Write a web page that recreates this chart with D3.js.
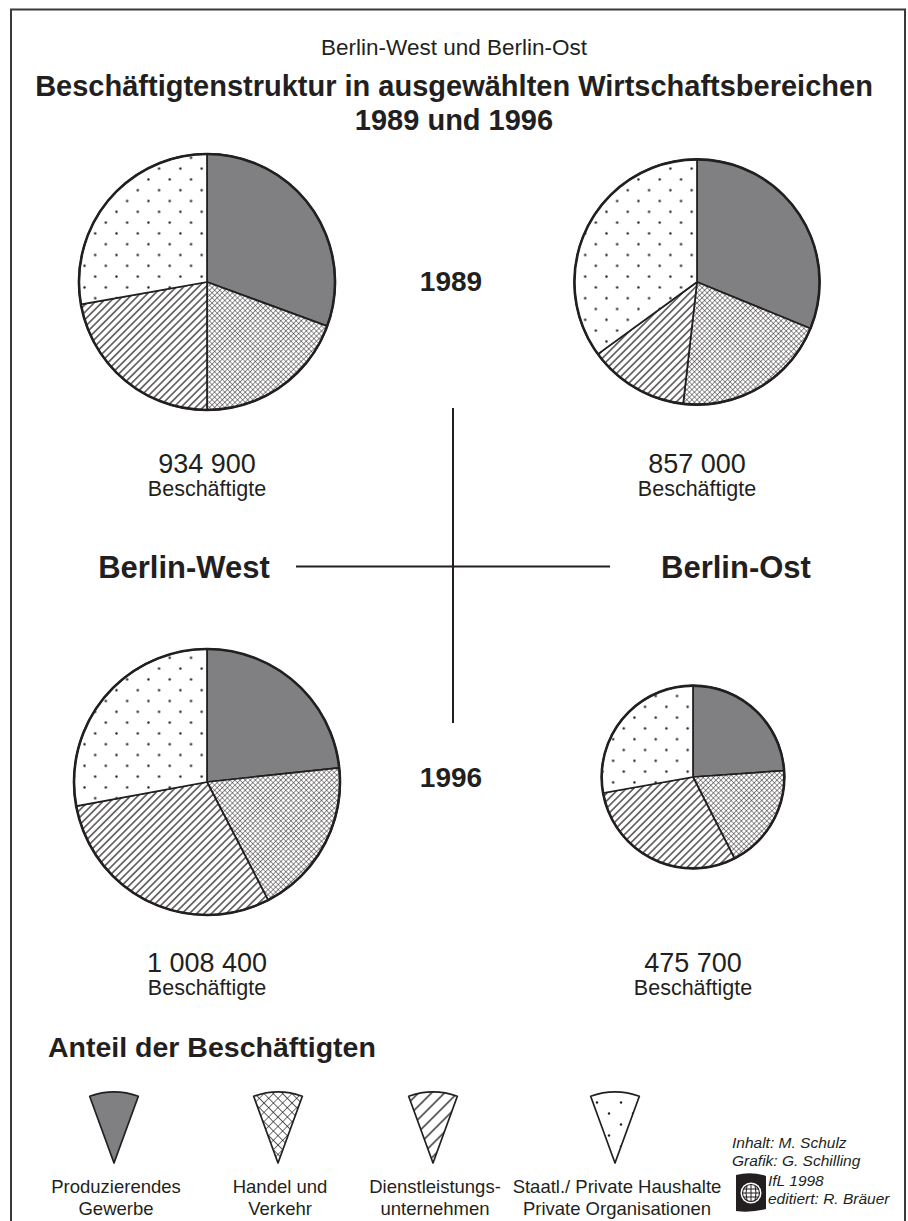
<!DOCTYPE html>
<html>
<head>
<meta charset="utf-8">
<script src="https://cdn.jsdelivr.net/npm/d3@7"></script>
<style>
  body { margin: 0; background: #fff; }
  svg text { font-family: "Liberation Sans", Arial, Helvetica, sans-serif; fill: #231f20; }
</style>
</head>
<body>
<div id="chart"></div>
<script>
// sectors, clockwise from 12 o'clock
const sectors = ["Produzierendes Gewerbe", "Handel und Verkehr", "Dienstleistungsunternehmen", "Staatl./ Private Haushalte, Private Organisationen"];
const legendLines = [["Produzierendes", "Gewerbe"], ["Handel und", "Verkehr"], ["Dienstleistungs-", "unternehmen"], ["Staatl./ Private Haushalte", "Private Organisationen"]];
const regions = ["Berlin-West", "Berlin-Ost"];
const years = ["1989", "1996"];

// employees (total) per pie
const employedWest = [934900, 1008400];
const employedOst = [857000, 475700];
const employedLabels = ["934 900", "857 000", "1 008 400", "475 700"];

// share of employees in %
const shareWest1989 = [30.6, 19.4, 22.2, 27.8];
const shareOst1989 = [31.2, 20.6, 13.2, 35.0];
const shareWest1996 = [23.3, 19.1, 29.7, 27.9];
const shareOst1996 = [23.9, 18.6, 29.7, 27.8];

const credits = ["Inhalt: M. Schulz", "Grafik: G. Schilling", "IfL 1998", "editiert: R. Bräuer"];

const width = 908, height = 1221;
const ink = "#231f20";

const svg = d3.select("#chart").append("svg")
    .attr("width", width)
    .attr("height", height);

// ---- patterns ----
const defs = svg.append("defs");

function crossPattern(id, s, w) {
    let p = defs.append("pattern")
        .attr("id", id)
        .attr("patternUnits", "userSpaceOnUse")
        .attr("width", s).attr("height", s)
        .attr("patternTransform", "rotate(45)");
    p.append("rect").attr("width", s).attr("height", s).attr("fill", "#fff");
    p.append("path")
        .attr("d", `M0,0 H${s} M0,0 V${s}`)
        .attr("stroke", ink).attr("stroke-width", w);
}

function hatchPattern(id, s, w) {
    let p = defs.append("pattern")
        .attr("id", id)
        .attr("patternUnits", "userSpaceOnUse")
        .attr("width", s).attr("height", s)
        .attr("patternTransform", "rotate(-45)");
    p.append("rect").attr("width", s).attr("height", s).attr("fill", "#fff");
    p.append("path")
        .attr("d", `M0,${s / 2} H${s}`)
        .attr("stroke", ink).attr("stroke-width", w);
}

function dotPattern(id, w, h, r) {
    let p = defs.append("pattern")
        .attr("id", id)
        .attr("patternUnits", "userSpaceOnUse")
        .attr("width", w).attr("height", h);
    p.append("rect").attr("width", w).attr("height", h).attr("fill", "#fff");
    p.append("circle").attr("cx", w * 0.25).attr("cy", h * 0.25).attr("r", r).attr("fill", ink);
    p.append("circle").attr("cx", w * 0.75).attr("cy", h * 0.75).attr("r", r).attr("fill", ink);
}

crossPattern("cross", 3.6, 1);
hatchPattern("hatch", 5.2, 1.2);
dotPattern("dots", 21.3, 21.6, 1.2);
crossPattern("cross-big", 6.6, 1.2);
hatchPattern("hatch-big", 9.2, 1.3);
dotPattern("dots-big", 24, 22, 1.2);

const fills = ["#808083", "url(#cross)", "url(#hatch)", "url(#dots)"];
const legendFills = ["#808083", "url(#cross-big)", "url(#hatch-big)", "url(#dots-big)"];

// ---- frame ----
svg.append("rect")
    .attr("x", 11).attr("y", 9.5)
    .attr("width", 894).attr("height", 1240)
    .attr("fill", "none")
    .attr("stroke", "#3a3a3a")
    .attr("stroke-width", 2);

// ---- titles ----
svg.append("text")
    .attr("x", 454).attr("y", 55)
    .attr("text-anchor", "middle")
    .style("font-size", "22.5px")
    .text("Berlin-West und Berlin-Ost");

svg.append("text")
    .attr("x", 454).attr("y", 96)
    .attr("text-anchor", "middle")
    .style("font-size", "29px")
    .style("font-weight", "bold")
    .text("Beschäftigtenstruktur in ausgewählten Wirtschaftsbereichen");

svg.append("text")
    .attr("x", 454).attr("y", 130)
    .attr("text-anchor", "middle")
    .style("font-size", "29px")
    .style("font-weight", "bold")
    .text("1989 und 1996");

// ---- pies ----
const rScale = d3.scaleSqrt()
    .domain([0, d3.max(employedWest.concat(employedOst))])
    .range([0, 133]);

const pie = d3.pie().sort(null).value(d => d);

const pies = [
    {shares: shareWest1989, total: employedWest[0], label: employedLabels[0], cx: 207, cy: 282, ly: 473},
    {shares: shareOst1989, total: employedOst[0], label: employedLabels[1], cx: 697, cy: 282, ly: 473},
    {shares: shareWest1996, total: employedWest[1], label: employedLabels[2], cx: 207, cy: 782, ly: 972},
    {shares: shareOst1996, total: employedOst[1], label: employedLabels[3], cx: 693, cy: 777, ly: 972}
];

pies.forEach(p => {
    let r = rScale(p.total);
    let arc = d3.arc().innerRadius(0).outerRadius(r);
    let g = svg.append("g")
        .attr("transform", `translate(${p.cx},${p.cy})`);

    g.selectAll("path")
        .data(pie(p.shares))
        .join("path")
            .attr("d", arc)
            .attr("fill", (d, i) => fills[i])
            .attr("stroke", ink)
            .attr("stroke-width", 1.7)
            .attr("stroke-linejoin", "round");

    g.append("circle")
        .attr("r", r)
        .attr("fill", "none")
        .attr("stroke", ink)
        .attr("stroke-width", 2.6);

    svg.append("text")
        .attr("x", p.cx).attr("y", p.ly)
        .attr("text-anchor", "middle")
        .style("font-size", "27px")
        .text(p.label);

    svg.append("text")
        .attr("x", p.cx).attr("y", p.ly + 23)
        .attr("text-anchor", "middle")
        .style("font-size", "21.5px")
        .text("Beschäftigte");
});

// ---- cross & labels ----
svg.append("line")
    .attr("x1", 453).attr("x2", 453)
    .attr("y1", 408).attr("y2", 723)
    .attr("stroke", ink).attr("stroke-width", 2);

svg.append("line")
    .attr("x1", 296).attr("x2", 610)
    .attr("y1", 566.5).attr("y2", 566.5)
    .attr("stroke", ink).attr("stroke-width", 2);

svg.selectAll(".year")
    .data(years)
    .join("text")
        .attr("class", "year")
        .attr("x", 451)
        .attr("y", (d, i) => i === 0 ? 291 : 787)
        .attr("text-anchor", "middle")
        .style("font-size", "28px")
        .style("font-weight", "bold")
        .text(d => d);

svg.selectAll(".region")
    .data(regions)
    .join("text")
        .attr("class", "region")
        .attr("x", (d, i) => i === 0 ? 184 : 736)
        .attr("y", 578)
        .attr("text-anchor", "middle")
        .style("font-size", "31px")
        .style("font-weight", "bold")
        .text(d => d);

// ---- legend ----
svg.append("text")
    .attr("x", 48).attr("y", 1057)
    .style("font-size", "28.5px")
    .style("font-weight", "bold")
    .text("Anteil der Beschäftigten");

const legendX = [114, 278, 433, 615];
const wedge = d3.arc()
    .innerRadius(0).outerRadius(71)
    .startAngle(-0.35).endAngle(0.35);

const leg = svg.selectAll(".legend")
    .data(sectors)
    .join("g")
        .attr("class", "legend")
        .attr("transform", (d, i) => `translate(${legendX[i]},1163)`);

leg.append("path")
    .attr("d", wedge())
    .attr("fill", (d, i) => legendFills[i])
    .attr("stroke", ink)
    .attr("stroke-width", 1.7)
    .attr("stroke-linejoin", "round");

leg.each(function(d, i) {
    d3.select(this).selectAll("text")
        .data(legendLines[i])
        .join("text")
            .attr("x", 2)
            .attr("y", (t, j) => 30 + j * 22)
            .attr("text-anchor", "middle")
            .style("font-size", "18.5px")
            .text(t => t);
});

// ---- credits ----
svg.selectAll(".credit")
    .data(credits)
    .join("text")
        .attr("class", "credit")
        .attr("x", (d, i) => i < 2 ? 732 : 768)
        .attr("y", (d, i) => [1148, 1166, 1186, 1204][i])
        .style("font-size", "15.5px")
        .style("font-style", "italic")
        .text(d => d);

// small institute logo
const logo = svg.append("g").attr("transform", "translate(751,1193)");
logo.append("path")
    .attr("d", "M-15,-18 Q0,-22 15,-17 L15,16 Q0,20 -15,18 Z")
    .attr("fill", ink);
logo.append("circle").attr("r", 10.5).attr("fill", "#fff");
logo.append("circle").attr("r", 8.5).attr("fill", "none").attr("stroke", ink).attr("stroke-width", 1.1);
logo.append("path")
    .attr("d", "M-8.5,0 H8.5 M0,-8.5 V8.5 M-7.5,-4 H7.5 M-7.5,4 H7.5 M-4,-7.5 Q-6,0 -4,7.5 M4,-7.5 Q6,0 4,7.5")
    .attr("fill", "none").attr("stroke", ink).attr("stroke-width", 1);
</script>
</body>
</html>
